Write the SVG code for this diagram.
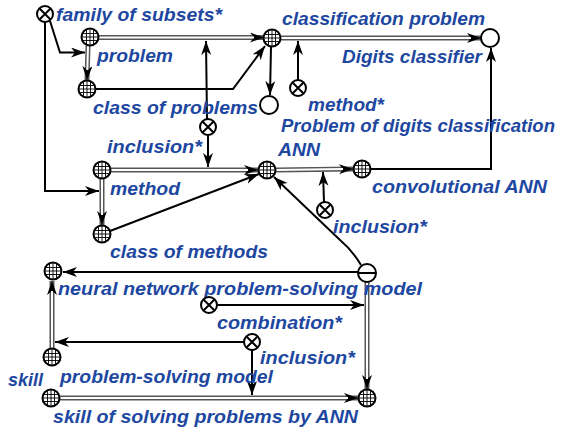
<svg xmlns="http://www.w3.org/2000/svg" xmlns:xlink="http://www.w3.org/1999/xlink" width="567" height="432" viewBox="0 0 567 432">
<style>
  .lbl { font-family: "Liberation Sans", Arial, sans-serif; font-size: 18px; font-weight: bold; font-style: italic; fill: #1d47a0; }
  .ln { fill: none; stroke: #000; stroke-width: 2; }
  .dbl { fill: none; stroke: #555; stroke-width: 5; }
  .dbi { fill: none; stroke: #fff; stroke-width: 2; }
  .nc { fill: #fff; stroke: #000; stroke-width: 2; }
  .nl { stroke: #000; stroke-width: 0.9; }
  .nx { stroke: #000; stroke-width: 2; }
</style>
<defs>
  <marker id="arr" markerUnits="userSpaceOnUse" markerWidth="15" markerHeight="11" refX="14" refY="5" orient="auto">
    <path d="M0,0 L14,5 L0,10 L4,5 z" fill="#000"/>
  </marker>
  <g id="grid">
    <circle r="8.5" class="nc"/>
    <path class="nl" d="M-3.5,-7.5 V7.5 M0,-8 V8 M3.5,-7.5 V7.5 M-7.5,-3.5 H7.5 M-8,0 H8 M-7.5,3.5 H7.5"/>
  </g>
  <g id="cross">
    <circle r="8" class="nc"/>
    <path class="nx" d="M-5.5,-5.5 L5.5,5.5 M5.5,-5.5 L-5.5,5.5"/>
  </g>
  <g id="ring">
    <circle r="9" class="nc"/>
  </g>
  <g id="minus">
    <circle r="9" class="nc"/>
    <path class="nx" d="M-9,0 H9"/>
  </g>
</defs>

<g id="connectors">
  <path class="dbl" d="M88,46 L87,80" marker-end="url(#arr)"/>
  <path class="dbi" d="M88,46 L87.3,70"/>
  <path class="dbl" d="M99,37.5 H264" marker-end="url(#arr)"/>
  <path class="dbi" d="M99,37.5 H254"/>
  <path class="dbl" d="M281,38 H481" marker-end="url(#arr)"/>
  <path class="dbi" d="M281,38 H471"/>
  <path class="dbl" d="M111,170 H258" marker-end="url(#arr)"/>
  <path class="dbi" d="M111,170 H248"/>
  <path class="dbl" d="M102,179 V225" marker-end="url(#arr)"/>
  <path class="dbi" d="M102,179 V215"/>
  <path class="dbl" d="M276,170 L353,169" marker-end="url(#arr)"/>
  <path class="dbi" d="M276,170 L343,169.1"/>
  <path class="dbl" d="M52,348 V281" marker-end="url(#arr)"/>
  <path class="dbi" d="M52,348 V291"/>
  <path class="dbl" d="M367,282 V389" marker-end="url(#arr)"/>
  <path class="dbi" d="M367,282 V379"/>
  <path class="dbl" d="M60,398 H358" marker-end="url(#arr)"/>
  <path class="dbi" d="M60,398 H348"/>

  <path class="ln" d="M45,22 V191 H99" marker-end="url(#arr)"/>
  <path class="ln" d="M50,21 L60,52.5 H85" marker-end="url(#arr)"/>
  <path class="ln" d="M96,89 H233 L265,46" marker-end="url(#arr)"/>
  <path class="ln" d="M207,119 L206,41" marker-end="url(#arr)"/>
  <path class="ln" d="M208,135 V167" marker-end="url(#arr)"/>
  <path class="ln" d="M271,47 L270,95" marker-end="url(#arr)"/>
  <path class="ln" d="M298,80 V41" marker-end="url(#arr)"/>
  <path class="ln" d="M110,231 L259,174" marker-end="url(#arr)"/>
  <path class="ln" d="M324,202 L323,172" marker-end="url(#arr)"/>
  <path class="ln" d="M371,169 H491 V48" marker-end="url(#arr)"/>
  <path class="ln" d="M361,265 Q352,250 340,240 L274,177" marker-end="url(#arr)"/>
  <path class="ln" d="M358,272 H63" marker-end="url(#arr)"/>
  <path class="ln" d="M217,305 H364" marker-end="url(#arr)"/>
  <path class="ln" d="M244,342 H55" marker-end="url(#arr)"/>
  <path class="ln" d="M252,350 V395" marker-end="url(#arr)"/>
</g>

<g id="n-family-of-subsets">
  <use xlink:href="#cross" x="45" y="14"/>
  <text class="lbl" x="56" y="21" textLength="166" lengthAdjust="spacingAndGlyphs">family of subsets*</text>
</g>
<g id="n-problem">
  <use xlink:href="#grid" x="90" y="37"/>
  <text class="lbl" x="97" y="62" textLength="76" lengthAdjust="spacingAndGlyphs">problem</text>
</g>
<g id="n-class-of-problems">
  <use xlink:href="#grid" x="87" y="89"/>
  <text class="lbl" x="93" y="114" textLength="165" lengthAdjust="spacingAndGlyphs">class of problems</text>
</g>
<g id="n-classification-problem">
  <use xlink:href="#grid" x="272" y="38"/>
  <text class="lbl" x="282" y="25" textLength="203" lengthAdjust="spacingAndGlyphs">classification problem</text>
</g>
<g id="n-digits-classifier">
  <use xlink:href="#ring" x="490" y="38"/>
  <text class="lbl" x="342" y="63" textLength="140" lengthAdjust="spacingAndGlyphs">Digits classifier</text>
</g>
<g id="n-problem-of-digits-classification">
  <use xlink:href="#ring" x="269" y="105"/>
  <text class="lbl" x="281" y="132" textLength="274" lengthAdjust="spacingAndGlyphs">Problem of digits classification</text>
</g>
<g id="n-method-rel">
  <use xlink:href="#cross" x="298" y="88"/>
  <text class="lbl" x="308" y="111" textLength="76" lengthAdjust="spacingAndGlyphs">method*</text>
</g>
<g id="n-inclusion-1">
  <use xlink:href="#cross" x="208" y="127"/>
  <text class="lbl" x="107" y="153" textLength="95" lengthAdjust="spacingAndGlyphs">inclusion*</text>
</g>
<g id="n-method">
  <use xlink:href="#grid" x="102" y="170"/>
  <text class="lbl" x="110" y="195" textLength="70" lengthAdjust="spacingAndGlyphs">method</text>
</g>
<g id="n-class-of-methods">
  <use xlink:href="#grid" x="102" y="234"/>
  <text class="lbl" x="110" y="258" textLength="158" lengthAdjust="spacingAndGlyphs">class of methods</text>
</g>
<g id="n-ANN">
  <use xlink:href="#grid" x="267" y="170"/>
  <text class="lbl" x="278" y="156" textLength="42" lengthAdjust="spacingAndGlyphs">ANN</text>
</g>
<g id="n-convolutional-ANN">
  <use xlink:href="#grid" x="362" y="169"/>
  <text class="lbl" x="372" y="193" textLength="175" lengthAdjust="spacingAndGlyphs">convolutional ANN</text>
</g>
<g id="n-inclusion-2">
  <use xlink:href="#cross" x="325" y="210"/>
  <text class="lbl" x="333" y="233" textLength="94" lengthAdjust="spacingAndGlyphs">inclusion*</text>
</g>
<g id="n-nn-model-structure">
  <use xlink:href="#minus" x="367" y="273"/>
</g>
<g id="n-neural-network-problem-solving-model">
  <use xlink:href="#grid" x="53" y="271"/>
  <text class="lbl" x="58" y="295" textLength="364" lengthAdjust="spacingAndGlyphs">neural network problem-solving model</text>
</g>
<g id="n-combination">
  <use xlink:href="#cross" x="209" y="305"/>
  <text class="lbl" x="217" y="329" textLength="125" lengthAdjust="spacingAndGlyphs">combination*</text>
</g>
<g id="n-inclusion-3">
  <use xlink:href="#cross" x="252" y="342"/>
  <text class="lbl" x="260" y="364" textLength="95" lengthAdjust="spacingAndGlyphs">inclusion*</text>
</g>
<g id="n-skill">
  <use xlink:href="#grid" x="52" y="357"/>
  <text class="lbl" x="8" y="386" textLength="35" lengthAdjust="spacingAndGlyphs">skill</text>
</g>
<g id="n-problem-solving-model-label">
  <text class="lbl" x="60" y="383" textLength="213" lengthAdjust="spacingAndGlyphs">problem-solving model</text>
</g>
<g id="n-skill-problem-solving">
  <use xlink:href="#grid" x="51" y="398"/>
</g>
<g id="n-skill-of-solving-problems-by-ANN">
  <use xlink:href="#grid" x="367" y="398"/>
  <text class="lbl" x="53" y="423" textLength="305" lengthAdjust="spacingAndGlyphs">skill of solving problems by ANN</text>
</g>
</svg>
